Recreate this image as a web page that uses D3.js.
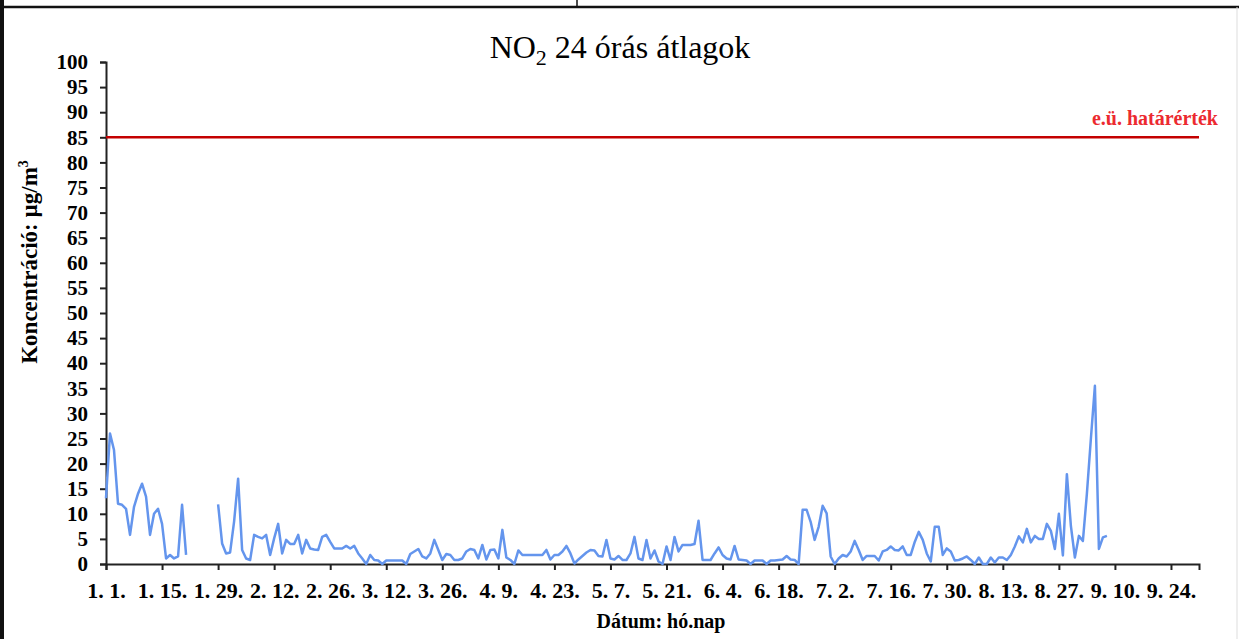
<!DOCTYPE html>
<html>
<head>
<meta charset="utf-8">
<script src="https://cdn.jsdelivr.net/npm/d3@7"></script>
<style>
  html, body { margin: 0; padding: 0; background: #fff; }
  svg { display: block; }
  text { font-family: "Liberation Serif", "Times New Roman", serif; }
</style>
</head>
<body>
<svg id="chart" width="1239" height="639"></svg>
<script>
// ---- data ----
const startDate = "2010-01-01";               // first daily value (1. 1.)
const axisEndDate = "2010-10-01";
// daily NO2 24-hour averages (µg/m3); null = missing day
const no2Values = [
  13.1, 26, 22.7, 12, 11.8, 11, 5.8, 11.4, 14, 16,
  13.4, 5.8, 10, 11, 8, 1.1, 1.8, 1.1, 1.5, 11.8,
  1.8, null, null, null, null, null, null, null, 11.9, 4.1,
  2.1, 2.3, 8.5, 17, 2.8, 1.1, 0.8, 5.8, 5.4, 5.1,
  5.8, 1.8, 5.1, 8, 2.1, 4.8, 4, 4, 5.8, 2.1,
  4.8, 3.1, 2.9, 2.8, 5.4, 5.8, 4.4, 3.1, 3.1, 3.1,
  3.6, 3.1, 3.6, 2.1, 1.1, 0, 1.8, 0.8, 0.7, 0,
  0.7, 0.7, 0.7, 0.7, 0.7, 0, 2, 2.5, 3, 1.5,
  1.1, 2.1, 4.8, 2.8, 0.8, 2, 1.8, 0.8, 0.8, 1.1,
  2.5, 3, 2.8, 1.1, 3.8, 0.9, 2.8, 2.9, 1.1, 6.8,
  1.3, 0.8, 0, 2.7, 1.8, 1.8, 1.8, 1.8, 1.8, 1.8,
  2.8, 0.9, 1.8, 1.8, 2.5, 3.6, 2.1, 0.1, 0.9, 1.6,
  2.3, 2.8, 2.7, 1.6, 1.5, 4.8, 1.1, 0.9, 1.6, 0.8,
  0.8, 2.1, 5.4, 1.1, 0.8, 4.8, 1.1, 2.7, 0.5, 0,
  3.5, 0.8, 5.4, 2.5, 3.8, 3.8, 3.8, 4, 8.6, 0.8,
  0.8, 0.8, 2.1, 3.3, 1.8, 1.1, 0.9, 3.6, 0.9, 0.8,
  0.7, 0, 0.7, 0.7, 0.7, 0, 0.7, 0.7, 0.8, 0.9,
  1.6, 0.9, 0.8, 0, 10.8, 10.8, 8.4, 4.8, 7.4, 11.6,
  10.1, 1.5, 0, 1.1, 1.8, 1.5, 2.5, 4.6, 2.8, 0.8,
  1.6, 1.6, 1.6, 0.7, 2.5, 2.8, 3.5, 2.8, 2.7, 3.5,
  1.8, 1.8, 4.4, 6.4, 4.8, 2.1, 0.5, 7.4, 7.4, 1.8,
  3.1, 2.5, 0.7, 0.8, 1.1, 1.5, 0.8, 0, 1.3, 0,
  0, 1.3, 0.3, 1.3, 1.3, 0.8, 1.8, 3.5, 5.5, 4.3,
  7, 4.3, 5.6, 5, 5, 8, 6.6, 3, 10, 1.7,
  17.9, 7.6, 1.3, 5.6, 4.6, 14, 25, 35.5, 3, 5.3,
  5.6
];
const limitValue = 85;
const limitLabel = "e.ü. határérték";
const xTickLabels = ["1. 1.", "1. 15.", "1. 29.", "2. 12.", "2. 26.", "3. 12.", "3. 26.",
  "4. 9.", "4. 23.", "5. 7.", "5. 21.", "6. 4.", "6. 18.", "7. 2.", "7. 16.", "7. 30.",
  "8. 13.", "8. 27.", "9. 10.", "9. 24."];
const yTicks = [0, 5, 10, 15, 20, 25, 30, 35, 40, 45, 50, 55, 60, 65, 70, 75, 80, 85, 90, 95, 100];
const yDomain = [0, 100];
const titleMain = "NO";
const titleSub = "2";
const titleRest = " 24 órás átlagok";
const yTitle = "Koncentráció: µg/m";
const yTitleSup = "3";
const xTitle = "Dátum: hó.nap";

// ---- build ----
const parse = d3.utcParse("%Y-%m-%d");
const t0 = parse(startDate);
const series = no2Values.map((v, i) => ({ date: d3.utcDay.offset(t0, i), v }));
const tickDates = xTickLabels.map(s => {
  const [m, d] = s.split(".").map(p => +p.trim());
  return new Date(Date.UTC(t0.getUTCFullYear(), m - 1, d));
});

const svg = d3.select("#chart");
const plotLeft = 106, plotRight = 1199, plotTop = 62, plotBottom = 564;

const x = d3.scaleUtc().domain([t0, parse(axisEndDate)]).range([plotLeft, plotRight]);
const y = d3.scaleLinear().domain(yDomain).range([plotBottom, plotTop]);

// frame (scanned page borders)
svg.append("rect").attr("x", 0).attr("y", 0).attr("width", 4).attr("height", 639).attr("fill", "#111");
svg.append("line").attr("x1", 0).attr("x2", 1239).attr("y1", 7).attr("y2", 7)
  .attr("stroke", "#111").attr("stroke-width", 2.5);
svg.append("line").attr("x1", 577).attr("x2", 577).attr("y1", 0).attr("y2", 7)
  .attr("stroke", "#111").attr("stroke-width", 1.5);
svg.append("line").attr("x1", 1237).attr("x2", 1237).attr("y1", 7).attr("y2", 639)
  .attr("stroke", "#ddd").attr("stroke-width", 1);

// title
const title = svg.append("text").attr("x", 620).attr("y", 58).attr("text-anchor", "middle")
  .attr("font-size", 32).attr("fill", "#000");
title.append("tspan").text(titleMain);
title.append("tspan").attr("font-size", 22).attr("dy", 7).text(titleSub);
title.append("tspan").attr("dy", -7).text(titleRest);

// y axis
const yAxis = svg.append("g").attr("transform", `translate(${plotLeft},0)`)
  .call(d3.axisLeft(y).tickValues(yTicks).tickSize(6).tickPadding(12).tickFormat(d3.format("d")));
// x axis
const xAxis = svg.append("g").attr("transform", `translate(0,${plotBottom})`)
  .call(d3.axisBottom(x).tickValues(tickDates).tickSize(6).tickPadding(12)
    .tickFormat((d, i) => xTickLabels[i]));
[yAxis, xAxis].forEach(g => {
  g.select(".domain").attr("stroke", "#222").attr("stroke-width", 2);
  g.selectAll(".tick line").attr("stroke", "#222").attr("stroke-width", 2);
  g.selectAll(".tick text").attr("font-family", "Liberation Serif, serif")
    .attr("font-size", 21).attr("font-weight", "bold").attr("fill", "#000");
});
xAxis.selectAll(".tick text").attr("dy", "0.71em").attr("font-size", 22);

// limit line
svg.append("line").attr("x1", plotLeft).attr("x2", plotRight)
  .attr("y1", y(limitValue)).attr("y2", y(limitValue))
  .attr("stroke", "#c40000").attr("stroke-width", 2.5);
svg.append("text").attr("x", 1218).attr("y", 125).attr("text-anchor", "end")
  .attr("font-size", 20).attr("font-weight", "bold").attr("fill", "#ec2a30").text(limitLabel);

// data line
const line = d3.line().defined(d => d.v != null).x(d => x(d.date)).y(d => y(d.v));
svg.append("path").datum(series).attr("d", line).attr("fill", "none")
  .attr("stroke", "#6495ed").attr("stroke-width", 2.5).attr("stroke-linejoin", "round");

// axis titles
const yt = svg.append("text").attr("transform", "translate(37,262) rotate(-90)")
  .attr("text-anchor", "middle").attr("font-size", 23).attr("font-weight", "bold").attr("fill", "#000");
yt.append("tspan").text(yTitle);
yt.append("tspan").attr("font-size", 14).attr("dy", -9).text(yTitleSup);

svg.append("text").attr("x", 661).attr("y", 628).attr("text-anchor", "middle")
  .attr("font-size", 20).attr("font-weight", "bold").attr("fill", "#000").text(xTitle);
</script>
</body>
</html>
